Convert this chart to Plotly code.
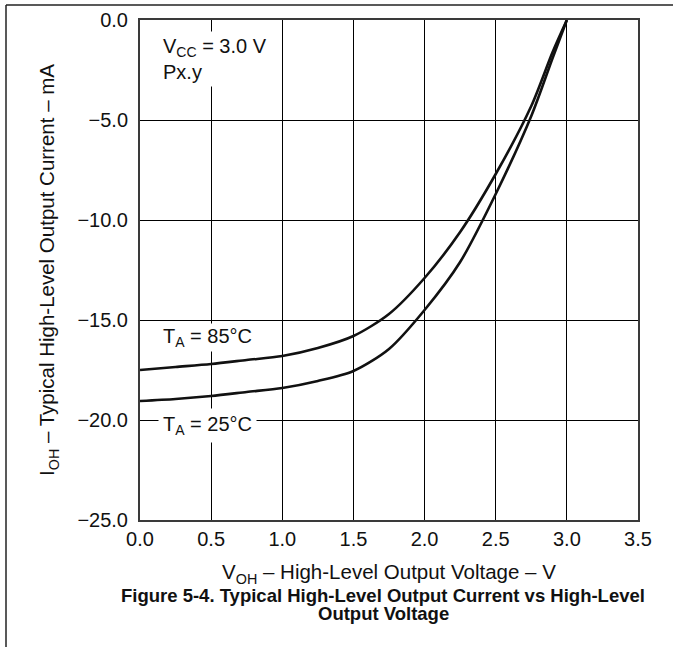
import plotly.graph_objects as go

# Data
voh = [0, 0.25, 0.5, 0.75, 1.0, 1.25, 1.5, 1.75, 2.0, 2.25, 2.5, 2.75, 2.9, 3.0]
ioh_85 = [-17.5, -17.35, -17.2, -17.0, -16.8, -16.4, -15.8, -14.7, -12.9, -10.6, -7.7, -4.3, -1.6, 0.0]
ioh_25 = [-19.05, -18.95, -18.8, -18.6, -18.4, -18.05, -17.55, -16.45, -14.5, -12.1, -8.7, -4.8, -1.9, 0.0]

x_ticks = [0.0, 0.5, 1.0, 1.5, 2.0, 2.5, 3.0, 3.5]
y_ticks = [0.0, -5.0, -10.0, -15.0, -20.0, -25.0]
x_tick_text = ["0.0", "0.5", "1.0", "1.5", "2.0", "2.5", "3.0", "3.5"]
y_tick_text = ["0.0", "\u22125.0", "\u221210.0", "\u221215.0", "\u221220.0", "\u221225.0"]

FONT = "Liberation Sans, Arial, sans-serif"
INK = "#111111"

# body margin is removed, so the plot lands at x 140..638, y 20..520
W, H = 673, 647
ML, MR, MT, MB = 140, 673 - 638, 20, 647 - 520

fig = go.Figure()
for ys in (ioh_85, ioh_25):
    fig.add_trace(go.Scatter(x=voh, y=ys, mode="lines",
                             line=dict(color=INK, width=2.6, shape="spline", smoothing=0.8),
                             showlegend=False, hoverinfo="skip"))

axis_common = dict(showgrid=True, gridcolor="#000000", gridwidth=1, automargin=False,
                   showline=True, linecolor="#3a3a3a", linewidth=2, mirror=True,
                   zeroline=False, ticks="", tickfont=dict(family=FONT, size=20, color=INK))

fig.update_xaxes(range=[0, 3.5], tickvals=x_ticks, ticktext=x_tick_text, ticklabelstandoff=0,
                 title=dict(text="V<sub>OH</sub> \u2013 High-Level Output Voltage \u2013 V",
                            font=dict(family=FONT, size=20.5, color=INK), standoff=16),
                 **axis_common)
fig.update_yaxes(range=[-25, 0], tickvals=y_ticks, ticktext=y_tick_text, ticklabelstandoff=6,
                 title=dict(text="I<sub>OH</sub> \u2013 Typical High-Level Output Current \u2013 mA",
                            font=dict(family=FONT, size=20.5, color=INK), standoff=17),
                 **axis_common)

ann_font = dict(family=FONT, size=20, color=INK)
px_per_v = 498 / 3.5


def left_x(pad):
    return (162 - pad - 140) / px_per_v


fig.add_annotation(x=left_x(3), y=-1.95, xref="x", yref="y", xanchor="left", yanchor="middle",
                   text="V<sub>CC</sub> = 3.0 V<br>Px.y", align="left", showarrow=False,
                   font=ann_font, bgcolor="white", borderpad=3)
fig.add_annotation(x=left_x(1), y=-15.85, xref="x", yref="y", xanchor="left", yanchor="middle",
                   text="T<sub>A</sub> = 85\u00b0C", showarrow=False,
                   font=ann_font, bgcolor="white", borderpad=1)
fig.add_annotation(x=left_x(4), y=-20.25, xref="x", yref="y", xanchor="left", yanchor="middle",
                   text="T<sub>A</sub> = 25\u00b0C", showarrow=False,
                   font=ann_font, bgcolor="white", borderpad=4)

cap_font = dict(family=FONT, size=18.5, color=INK)
fig.add_annotation(x=(383 - 140) / 498, y=(520 - 595) / 500, xref="paper", yref="paper",
                   xanchor="center", yanchor="middle",
                   text="<b>Figure 5-4. Typical High-Level Output Current vs High-Level</b>",
                   showarrow=False, font=cap_font)
fig.add_annotation(x=(383 - 140) / 498, y=(520 - 613) / 500, xref="paper", yref="paper",
                   xanchor="center", yanchor="middle",
                   text="<b>Output Voltage</b>", showarrow=False, font=cap_font)

# frame lines around the figure region
fig.add_shape(type="line", xref="paper", yref="paper", x0=(6 - 140) / 498, x1=(680 - 140) / 498,
              y0=(520 - 5) / 500, y1=(520 - 5) / 500, line=dict(color="#222222", width=1.5))
fig.add_shape(type="line", xref="paper", yref="paper", x0=(6 - 140) / 498, x1=(6 - 140) / 498,
              y0=(520 - 5) / 500, y1=(520 - 660) / 500, line=dict(color="#222222", width=1.5))

fig.update_layout(width=W, height=H, margin=dict(l=ML, r=MR, t=MT, b=MB),
                  paper_bgcolor="white", plot_bgcolor="white", showlegend=False)

fig.write_html("out.html", config={"displayModeBar": False},
               post_script="document.body.style.margin='0';document.body.style.padding='0';")
